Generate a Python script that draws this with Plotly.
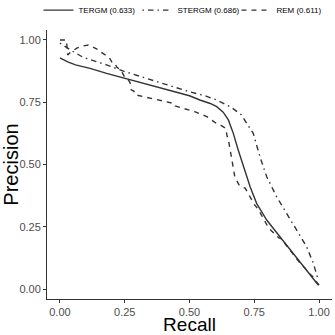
"""Precision-recall curves for TERGM, STERGM and REM."""

import plotly.graph_objects as go

# TERGM (solid)
tergm_recall = [0.0, 0.03, 0.06, 0.116, 0.18, 0.25, 0.32, 0.40, 0.50, 0.54, 0.58, 0.605,
                0.63, 0.65, 0.669, 0.688, 0.708, 0.734, 0.759, 0.798, 0.849, 0.901, 0.952, 0.997]
tergm_precision = [0.928, 0.912, 0.900, 0.886, 0.866, 0.846, 0.828, 0.806, 0.776, 0.759, 0.745, 0.732,
                   0.710, 0.679, 0.625, 0.558, 0.491, 0.411, 0.344, 0.277, 0.210, 0.143, 0.076, 0.016]

# STERGM (dot-dash)
stergm_recall = [0.0, 0.04, 0.09, 0.18, 0.25, 0.37, 0.50, 0.56, 0.605, 0.66, 0.70, 0.721,
                 0.746, 0.772, 0.798, 0.836, 0.875, 0.914, 0.952, 0.978, 0.997]
stergm_precision = [0.987, 0.960, 0.930, 0.900, 0.873, 0.833, 0.792, 0.776, 0.759, 0.730, 0.700, 0.665,
                    0.625, 0.531, 0.451, 0.371, 0.304, 0.237, 0.170, 0.103, 0.036]

# REM (dashed, stepwise)
rem_recall = [0.0, 0.025, 0.03, 0.04, 0.065, 0.085, 0.11, 0.13, 0.15, 0.16, 0.18, 0.19, 0.2, 0.21,
              0.22, 0.235, 0.24, 0.25, 0.26, 0.27, 0.275, 0.285, 0.29, 0.31, 0.34, 0.36, 0.38, 0.40,
              0.42, 0.44, 0.445, 0.47, 0.50, 0.52, 0.55, 0.57, 0.59, 0.61, 0.625, 0.64, 0.645, 0.65,
              0.655, 0.66, 0.665, 0.67, 0.675, 0.69, 0.70, 0.715, 0.72, 0.73, 0.74, 0.75, 0.765, 0.78,
              0.79, 0.80, 0.815, 0.83, 0.845, 0.86, 0.87, 0.885, 0.90, 0.915, 0.93, 0.945, 0.96, 0.975,
              0.99, 1.0]
rem_precision = [1.0, 1.0, 0.94, 0.95, 0.967, 0.975, 0.98, 0.97, 0.96, 0.95, 0.935, 0.93, 0.912, 0.91,
                 0.89, 0.88, 0.87, 0.85, 0.845, 0.83, 0.80, 0.795, 0.78, 0.775, 0.77, 0.765, 0.76, 0.755,
                 0.748, 0.745, 0.735, 0.728, 0.72, 0.712, 0.70, 0.69, 0.675, 0.66, 0.655, 0.645, 0.615, 0.60,
                 0.57, 0.54, 0.50, 0.47, 0.45, 0.42, 0.41, 0.405, 0.395, 0.38, 0.36, 0.34, 0.32, 0.29,
                 0.27, 0.255, 0.235, 0.22, 0.205, 0.20, 0.18, 0.16, 0.14, 0.12, 0.10, 0.085, 0.065, 0.05,
                 0.03, 0.015]

tick_vals = [0, 0.25, 0.5, 0.75, 1.0]
tick_text = ["0.00", "0.25", "0.50", "0.75", "1.00"]

line_col = "#333333"

fig = go.Figure()
fig.add_scatter(x=tergm_recall, y=tergm_precision, mode="lines", name="TERGM (0.633)",
                line=dict(color=line_col, width=1.4))
fig.add_scatter(x=stergm_recall, y=stergm_precision, mode="lines", name="STERGM (0.686)",
                line=dict(color=line_col, width=1.4, dash="1.5px,4px,5.5px,4px"))
fig.add_scatter(x=rem_recall, y=rem_precision, mode="lines", name="REM (0.611)",
                line=dict(color=line_col, width=1.4, dash="5px,5px"))

axis_common = dict(
    showgrid=False, zeroline=False, showline=True, linecolor="#333333", linewidth=1,
    ticks="outside", ticklen=3, tickcolor="#333333", tickvals=tick_vals, ticktext=tick_text,
    tickfont=dict(size=11, color="#4d4d4d"), automargin=False,
)

fig.update_layout(
    width=335, height=335,
    margin=dict(l=47, r=3, t=30, b=36, autoexpand=False),
    paper_bgcolor="white", plot_bgcolor="white",
    font=dict(family="Liberation Sans, Arial, sans-serif", color="#000000"),
    showlegend=True,
    legend=dict(orientation="h", x=-0.03, xanchor="left", y=1.02, yanchor="bottom",
                font=dict(size=8), itemwidth=30, entrywidth=54, entrywidthmode="pixels",
                tracegroupgap=0, bgcolor="rgba(0,0,0,0)"),
    xaxis=dict(range=[-0.05, 1.05],
               title=dict(text="Recall", font=dict(size=19), standoff=0), **axis_common),
    yaxis=dict(range=[-0.04, 1.04],
               title=dict(text="Precision", font=dict(size=20), standoff=0), **axis_common),
)

fig.write_html("out.html", config={"displayModeBar": False},
               post_script="document.body.style.margin='0';")
